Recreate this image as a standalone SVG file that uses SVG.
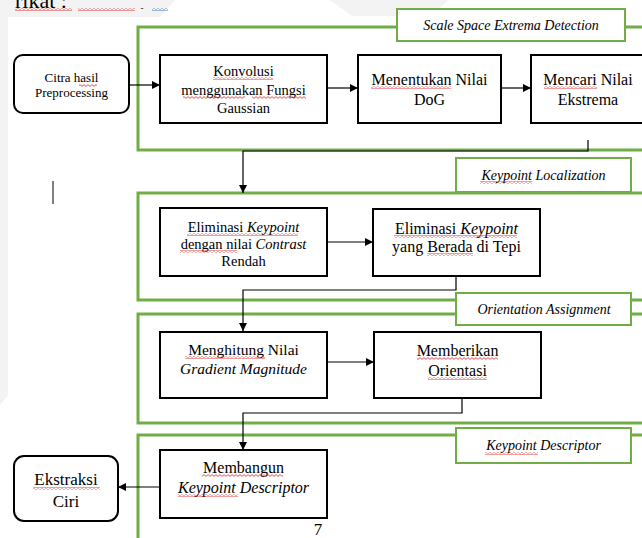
<svg xmlns="http://www.w3.org/2000/svg" width="642" height="538" viewBox="0 0 642 538">
<style>
.bg{fill:#f3f3f3}
.stage{fill:none;stroke:#70ad47;stroke-width:3}
.lbl{fill:#fff;stroke:#70ad47;stroke-width:2}
.node{fill:#fff;stroke:#000;stroke-width:2}
.t{font-family:"Liberation Serif","Times New Roman",serif;fill:#000;text-anchor:middle}
.it{font-style:italic}
.con{fill:none;stroke:#000;stroke-width:1.2}
.sq{fill:url(#sq)}
.sqb{fill:url(#sqb)}
</style>
<defs>
<marker id="ah" viewBox="0 0 10 10" refX="10" refY="5" markerWidth="8" markerHeight="8" markerUnits="userSpaceOnUse" orient="auto">
<path d="M0,0 L10,5 L0,10 Z" fill="#000"/>
</marker>
<pattern id="sq" width="4" height="3" patternUnits="userSpaceOnUse">
<path d="M0,0.6 L2,2.4 L4,0.6" fill="none" stroke="#d22" stroke-width="0.8"/>
</pattern>
<pattern id="sqb" width="4" height="3" patternUnits="userSpaceOnUse">
<path d="M0,0.6 L2,2.4 L4,0.6" fill="none" stroke="#36c" stroke-width="0.8"/>
</pattern>
</defs>

<rect width="642" height="538" fill="#fff"/>
<polygon class="bg" points="0,0 175,0 160,17 8,17 8,395 0,405"/>
<polygon class="bg" points="330,0 448,0 432,16 352,16"/>

<text x="41" y="8" class="t" font-size="22">rikat :</text>
<rect class="sq" x="15" y="8" width="57" height="3"/>
<rect class="sq" x="78" y="8" width="57" height="3"/>
<text x="142" y="11" class="t" font-size="9">-</text>
<rect class="sqb" x="152" y="8" width="16" height="3"/>
<line x1="53" y1="181" x2="53" y2="204" stroke="#000" stroke-width="1"/>

<g id="stage1">
<rect class="stage" x="138" y="27" width="530" height="123"/>
<rect class="lbl" x="397" y="9" width="228" height="32"/>
<text x="511" y="30" class="t it" font-size="14">Scale Space Extrema Detection</text>
</g>
<g id="stage2">
<rect class="stage" x="138" y="193" width="530" height="107"/>
<rect class="lbl" x="456" y="158" width="175" height="34"/>
<text x="543.5" y="180" class="t it" font-size="14">Keypoint Localization</text>
<rect class="sq" x="480" y="181" width="52" height="3"/>
</g>
<g id="stage3">
<rect class="stage" x="138" y="314" width="530" height="109"/>
<rect class="lbl" x="456" y="293" width="175" height="32"/>
<text x="544" y="314" class="t it" font-size="14">Orientation Assignment</text>
</g>
<g id="stage4">
<rect class="stage" x="138" y="435" width="530" height="130"/>
<rect class="lbl" x="456" y="428" width="175" height="35"/>
<text x="543.5" y="450" class="t it" font-size="14">Keypoint Descriptor</text>
<rect class="sq" x="485" y="452" width="53" height="3"/>
</g>

<g id="connectors">
<line class="con" x1="129" y1="85" x2="160" y2="85" marker-end="url(#ah)"/>
<line class="con" x1="327" y1="88" x2="358" y2="88" marker-end="url(#ah)"/>
<line class="con" x1="501" y1="88" x2="531" y2="88" marker-end="url(#ah)"/>
<polyline class="con" points="588,140 588,151 243,151 243,193" marker-end="url(#ah)"/>
<line class="con" x1="327" y1="242" x2="373" y2="242" marker-end="url(#ah)"/>
<polyline class="con" points="456,276 456,290 243,290 243,331" marker-end="url(#ah)"/>
<line class="con" x1="327" y1="362" x2="374" y2="362" marker-end="url(#ah)"/>
<polyline class="con" points="462,398 462,413 243,413 243,450" marker-end="url(#ah)"/>
<line class="con" x1="160" y1="487" x2="118" y2="487" marker-end="url(#ah)"/>
</g>

<g id="citra">
<rect class="node" x="14" y="55" width="115" height="58" rx="9"/>
<text class="t" font-size="13" x="71.5" y="82">Citra hasil</text>
<text class="t" font-size="13" x="71.5" y="97">Preprocessing</text>
<rect class="sq" x="79" y="84" width="18" height="3"/>
</g>
<g id="konvolusi">
<rect class="node" x="160" y="55" width="167" height="68"/>
<text class="t" font-size="14.5" x="243.5" y="76">Konvolusi</text>
<text class="t" font-size="14.5" x="243.5" y="95">menggunakan Fungsi</text>
<text class="t" font-size="14.5" x="243.5" y="113">Gaussian</text>
<rect class="sq" x="213" y="77" width="60" height="3"/>
<rect class="sq" x="183" y="96" width="62" height="3"/>
<rect class="sq" x="252" y="96" width="54" height="3"/>
</g>
<g id="dog">
<rect class="node" x="358" y="55" width="143" height="68"/>
<text class="t" font-size="16" x="429.5" y="85">Menentukan Nilai</text>
<text class="t" font-size="16" x="429.5" y="105">DoG</text>
<rect class="sq" x="371" y="86" width="80" height="3"/>
</g>
<g id="ekstrema">
<rect class="node" x="531" y="55" width="130" height="68"/>
<text class="t" font-size="16" x="588" y="85">Mencari Nilai</text>
<text class="t" font-size="16" x="588" y="105">Ekstrema</text>
<rect class="sq" x="544" y="86" width="53" height="3"/>
</g>
<g id="elim-contrast">
<rect class="node" x="160" y="208" width="167" height="68"/>
<text class="t" font-size="14.5" x="243.5" y="232">Eliminasi <tspan class="it">Keypoint</tspan></text>
<text class="t" font-size="14.5" x="243.5" y="249">dengan nilai <tspan class="it">Contrast</tspan></text>
<text class="t" font-size="14.5" x="243.5" y="266">Rendah</text>
<rect class="sq" x="187" y="233" width="111" height="3"/>
<rect class="sq" x="180" y="250" width="57" height="3"/>
</g>
<g id="elim-tepi">
<rect class="node" x="373" y="209" width="167" height="67"/>
<text class="t" font-size="16" x="456.5" y="234">Eliminasi <tspan class="it">Keypoint</tspan></text>
<text class="t" font-size="16" x="456.5" y="252">yang Berada di Tepi</text>
<rect class="sq" x="394" y="235" width="123" height="3"/>
<rect class="sq" x="427" y="253" width="46" height="3"/>
</g>
<g id="gradient">
<rect class="node" x="160" y="332" width="167" height="66"/>
<text class="t" font-size="15.5" x="243.5" y="355">Menghitung Nilai</text>
<text class="t it" font-size="15.5" x="243.5" y="374">Gradient Magnitude</text>
<rect class="sq" x="185" y="356" width="80" height="3"/>
</g>
<g id="orientasi">
<rect class="node" x="374" y="332" width="167" height="66"/>
<text class="t" font-size="16" x="457.5" y="356">Memberikan</text>
<text class="t" font-size="16" x="457.5" y="376">Orientasi</text>
<rect class="sq" x="417" y="357" width="81" height="3"/>
<rect class="sq" x="428" y="377" width="59" height="3"/>
</g>
<g id="descriptor">
<rect class="node" x="160" y="450" width="167" height="68"/>
<text class="t" font-size="16" x="243.5" y="473">Membangun</text>
<text class="t it" font-size="16" x="243.5" y="493">Keypoint Descriptor</text>
<rect class="sq" x="202" y="474" width="81" height="3"/>
<rect class="sq" x="178" y="494" width="60" height="3"/>
</g>
<g id="ciri">
<rect class="node" x="14" y="456" width="104" height="65" rx="10"/>
<text class="t" font-size="17" x="66" y="485">Ekstraksi</text>
<text class="t" font-size="17" x="66" y="507">Ciri</text>
<rect class="sq" x="33" y="487" width="67" height="3"/>
</g>
<text class="t" font-size="17" x="318" y="535">7</text>
</svg>
